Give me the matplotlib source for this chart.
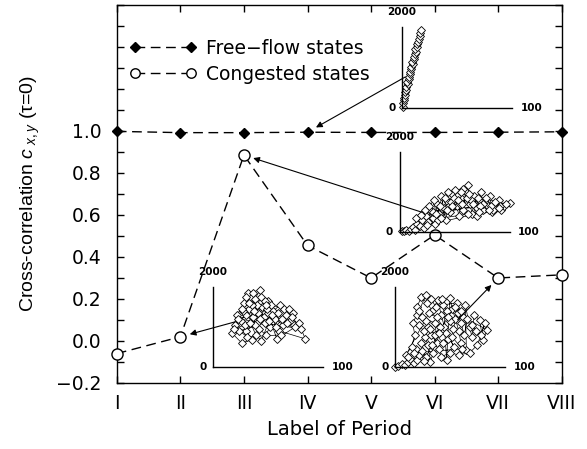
import matplotlib
matplotlib.use("Agg")
import matplotlib.pyplot as plt
from matplotlib.patches import ConnectionPatch
from matplotlib.ticker import MultipleLocator

plt.rcParams["font.family"] = ["DejaVu Sans"]
plt.rcParams["mathtext.fontset"] = "custom"
plt.rcParams["mathtext.it"] = "Liberation Sans:italic"
plt.rcParams["mathtext.rm"] = "Liberation Sans"

periods = ["I", "II", "III", "IV", "V", "VI", "VII", "VIII"]
free_flow = [0.998, 0.992, 0.992, 0.994, 0.993, 0.993, 0.994, 0.996]
congested = [-0.06, 0.02, 0.885, 0.455, 0.30, 0.505, 0.30, 0.315]

# flow-density points of the insets (density 0-100, flow 0-2000)
ff_density = [1.0, 0.5, 2.0, 1.5, 3.0, 2.5, 4.0, 3.5, 5.0, 4.5, 6.0, 6.5, 7.0, 7.5, 8.0,
              8.5, 9.5, 9.0, 10.5, 11.0, 11.5, 12.5, 12.0, 13.5, 14.0, 14.5, 15.0, 16.0, 16.5, 17.5]
ff_flow = [40, 120, 200, 260, 330, 400, 460, 530, 590, 650, 720, 780, 840, 900, 960,
           1020, 1090, 1150, 1210, 1270, 1330, 1400, 1460, 1520, 1590, 1650, 1710, 1780, 1850, 1930]

p3_density = [2, 4, 6, 8, 10, 12, 14, 16, 18, 20, 22, 24, 26, 28, 30, 32, 34, 36, 38, 40,
              42, 44, 46, 48, 50, 52, 54, 56, 58, 60, 62, 64, 66, 68, 70, 72, 74, 76, 78, 80,
              82, 84, 86, 88, 90, 92, 95, 100, 30, 45, 55, 65, 70, 85, 25, 35, 52, 58, 44, 76,
              15, 19, 23, 27, 31, 33, 37, 41, 43, 47, 49, 53, 57, 61, 63, 67, 71, 73, 79, 83,
              87, 91, 97, 56, 48, 38, 62, 72, 81, 90]
p3_flow = [20, 40, 60, 30, 80, 120, 60, 200, 150, 300, 100, 400, 250, 550, 350, 200, 700, 450, 900, 600,
           300, 750, 500, 950, 1050, 650, 400, 850, 550, 1000, 1175, 700, 450, 900, 600, 800, 1000, 550, 750, 650,
           900, 500, 700, 600, 800, 550, 650, 725, 500, 650, 700, 800, 400, 550, 180, 300, 900, 1080, 1000, 700,
           350, 420, 550, 650, 800, 450, 650, 850, 550, 750, 850, 800, 700, 850, 950, 700, 850, 650, 850, 650,
           750, 650, 700, 1000, 650, 350, 450, 500, 550, 600]

p2_density = [32, 43, 38, 28, 22, 17, 26, 35, 30, 40, 45, 50, 55, 61, 66, 73, 70, 78, 84, 60,
              52, 48, 42, 36, 33, 25, 20, 30, 46, 56, 64, 75, 58, 50, 40, 44, 35, 27, 38, 65,
              53, 47, 24, 31, 62, 30, 36, 41, 47, 49, 54, 57, 63, 69, 72, 80, 23, 19, 29, 34,
              39, 44, 51, 59, 67, 33, 26, 37, 43, 48]
p2_flow = [1850, 1925, 1700, 1600, 1300, 850, 600, 675, 900, 1100, 1500, 1650, 1400, 1550, 1300, 1350, 1150, 1100, 700, 900,
           1000, 800, 950, 1250, 1450, 1150, 1050, 1300, 1250, 1200, 1050, 1000, 700, 1350, 1550, 1750, 1550, 1400, 1050, 1450,
           1550, 1100, 900, 750, 800, 1750, 1850, 1350, 1650, 1450, 1300, 1000, 1200, 1450, 1250, 950, 1200, 950, 1050, 1100,
           800, 650, 1150, 1350, 1100, 1600, 1450, 1400, 1200, 1550]

p7_density = [0, 3, 6, 9, 12, 14, 17, 20, 22, 19, 25, 28, 24, 27, 30, 32, 35, 26, 22, 30,
              33, 38, 40, 36, 20, 25, 20, 24, 29, 34, 39, 42, 45, 47, 48, 50, 52, 55, 58, 60,
              65, 64, 68, 70, 72, 77, 80, 84, 62, 56, 44, 46, 54, 38, 31, 10, 15, 18, 16, 22,
              28, 33, 37, 43, 47, 50, 53, 57, 60, 63, 66, 70, 74, 78, 82, 75, 68, 58, 50, 42,
              36, 41, 28, 32, 44, 52, 61, 17, 12, 26, 34, 40, 48, 55, 60]
p7_flow = [0, 20, 60, 50, 120, 200, 100, 175, 300, 450, 400, 250, 600, 750, 550, 125, 350, 900, 1050, 1000,
           800, 600, 450, 1100, 1300, 1250, 1500, 1750, 1600, 1400, 1675, 1300, 1000, 175, 700, 1725, 1450, 1200, 900, 600,
           425, 1550, 1000, 750, 1300, 1175, 675, 925, 1250, 1600, 1550, 850, 500, 1250, 1350, 300, 500, 800, 1100, 1400,
           1800, 1700, 1500, 1700, 1400, 1150, 950, 1350, 1100, 800, 1200, 1050, 900, 800, 1100, 550, 350, 300, 350, 250,
           800, 1000, 1150, 950, 600, 750, 450, 350, 250, 150, 550, 850, 1250, 1500, 1400]

fig = plt.figure(figsize=(5.87, 4.49), dpi=100)
ax = fig.add_axes([0.199, 0.147, 0.758, 0.842])

x = list(range(1, len(periods) + 1))
ax.plot(x, free_flow, color="black", lw=1, dashes=(7, 4), marker="D", ms=5.5,
        mfc="black", mec="black", label="Free\u2212flow states", clip_on=False, zorder=3)
ax.plot(x, congested, color="black", lw=1, dashes=(7, 4), marker="o", ms=8,
        mfc="white", mec="black", mew=1, label="Congested states", clip_on=False, zorder=3)

ax.set_xlim(1, 8)
ax.set_ylim(-0.2, 1.6)
ax.set_xticks(x)
ax.set_xticklabels(periods)
ax.set_yticks([-0.2, 0.0, 0.2, 0.4, 0.6, 0.8, 1.0])
ax.set_yticklabels(["\u22120.2", "0.0", "0.2", "0.4", "0.6", "0.8", "1.0"])
ax.yaxis.set_minor_locator(MultipleLocator(0.1))
ax.tick_params(which="both", direction="in", top=True, right=True, length=5, width=1)
ax.tick_params(axis="both", labelsize=13.5)
ax.tick_params(axis="x", pad=8)
ax.tick_params(axis="y", pad=11)
for s in ax.spines.values():
    s.set_linewidth(1)

ax.set_xlabel("Label of Period", fontsize=14, labelpad=5)
ax.set_ylabel("Cross-correlation $\\mathit{c}_{\\ x,y}$ (\u03c4=0)", fontsize=14,
              family="Liberation Sans", labelpad=10)

ax.legend(loc="upper left", bbox_to_anchor=(0.028, 0.91), frameon=False, numpoints=2,
          handlelength=3.6, handletextpad=0.5, markerscale=0.85, fontsize=13.5,
          borderpad=0, borderaxespad=0, labelspacing=0.35)


def add_inset(rect, dens, flow):
    ins = fig.add_axes(rect)
    ins.patch.set_alpha(0)
    ins.spines["top"].set_visible(False)
    ins.spines["right"].set_visible(False)
    ins.spines["left"].set_linewidth(1)
    ins.spines["bottom"].set_linewidth(1)
    ins.set_xticks([])
    ins.set_yticks([])
    ins.set_xlim(0, 100)
    ins.set_ylim(0, 2000)
    ins.plot(dens, flow, color="black", lw=0.5, marker="D", ms=4.5, mfc="white",
             mec="black", mew=0.6, clip_on=False)
    ins.text(0, 1.19, "2000", transform=ins.transAxes, ha="center", va="center",
             fontsize=7.5, fontweight="bold")
    ins.text(-0.06, 0, "0", transform=ins.transAxes, ha="right", va="center",
             fontsize=7.5, fontweight="bold")
    ins.text(1.08, 0, "100", transform=ins.transAxes, ha="left", va="center",
             fontsize=7.5, fontweight="bold")
    return ins


ins_iv = add_inset([0.685, 0.759, 0.187, 0.180], ff_density, ff_flow)
ins_iii = add_inset([0.681, 0.483, 0.187, 0.178], p3_density, p3_flow)
ins_ii = add_inset([0.363, 0.183, 0.187, 0.178], p2_density, p2_flow)
ins_vii = add_inset([0.673, 0.183, 0.187, 0.178], p7_density, p7_flow)


def arrow(ins, start, idx, series):
    con = ConnectionPatch(xyA=start, coordsA=ins.transData,
                          xyB=(x[idx], series[idx]), coordsB=ax.transData,
                          arrowstyle="-|>", mutation_scale=9, shrinkA=0, shrinkB=7,
                          lw=0.8, color="black", zorder=5)
    fig.add_artist(con)


arrow(ins_iv, (3, 775), 3, free_flow)
arrow(ins_iii, (20, 500), 2, congested)
arrow(ins_ii, (20, 1125), 1, congested)
arrow(ins_vii, (57, 1175), 6, congested)

fig.savefig("out.png", dpi=100)
